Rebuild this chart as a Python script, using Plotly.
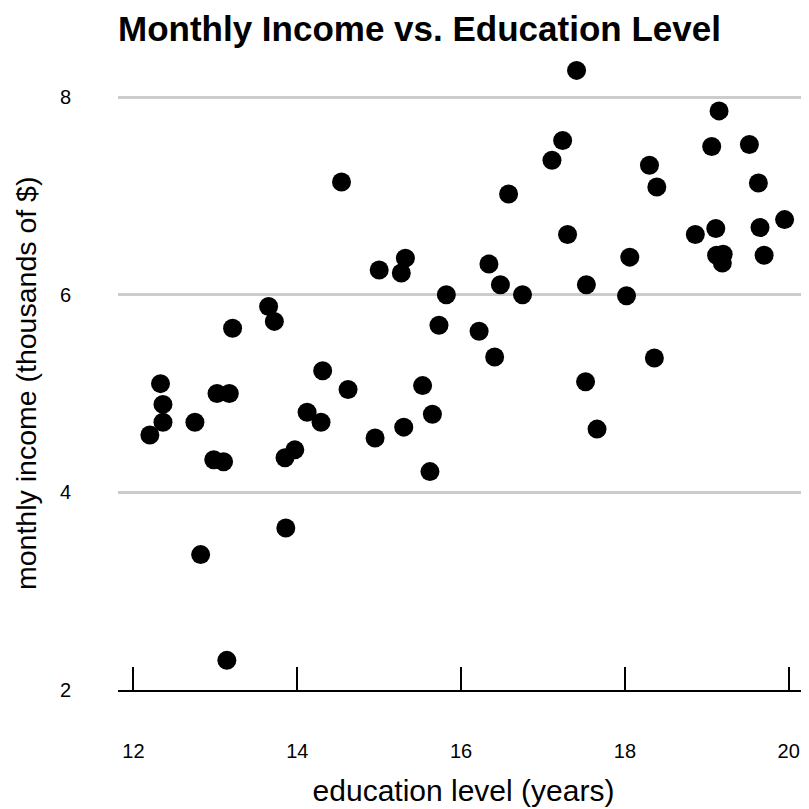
import plotly.graph_objects as go

education_years = [12.20, 12.33, 12.36, 12.36, 12.75, 12.82, 12.98, 13.02, 13.10, 13.14,
                   13.17, 13.21, 13.65, 13.72, 13.85, 13.86, 13.97, 14.12, 14.29, 14.31,
                   14.54, 14.62, 14.95, 15.00, 15.27, 15.30, 15.32, 15.53, 15.62, 15.65,
                   15.73, 15.82, 16.22, 16.34, 16.41, 16.48, 16.58, 16.75, 17.11, 17.24,
                   17.30, 17.41, 17.52, 17.53, 17.66, 18.02, 18.06, 18.30, 18.36, 18.39,
                   18.86, 19.06, 19.11, 19.12, 19.15, 19.19, 19.20, 19.52, 19.63, 19.65,
                   19.70, 19.95]
monthly_income = [4.58, 5.10, 4.89, 4.71, 4.71, 3.37, 4.33, 5.00, 4.31, 2.30,
                  5.00, 5.66, 5.88, 5.73, 4.35, 3.64, 4.43, 4.81, 4.71, 5.23,
                  7.14, 5.04, 4.55, 6.25, 6.22, 4.66, 6.37, 5.08, 4.21, 4.79,
                  5.69, 6.00, 5.63, 6.31, 5.37, 6.10, 7.02, 6.00, 7.36, 7.56,
                  6.61, 8.27, 5.12, 6.10, 4.64, 5.99, 6.38, 7.31, 5.36, 7.09,
                  6.61, 7.50, 6.67, 6.40, 7.86, 6.32, 6.41, 7.52, 7.13, 6.68,
                  6.40, 6.76]

x_ticks = [12, 14, 16, 18, 20]
y_ticks = [2, 4, 6, 8]

FONT = "Liberation Sans, Arial, sans-serif"
W = 801
H = 801
L, T, B = 110, 52, 119
PW = W - L
PH = H - T - B

fig = go.Figure(go.Scatter(
    x=education_years, y=monthly_income, mode="markers",
    marker=dict(color="black", size=19, line=dict(width=0)),
    cliponaxis=False, showlegend=False,
))

fig.update_layout(
    width=W, height=H,
    margin=dict(l=L, r=0, t=T, b=B),
    paper_bgcolor="white", plot_bgcolor="white",
    font=dict(family=FONT, color="black"),
    title=dict(text="<b>Monthly Income vs. Education Level</b>",
               font=dict(size=35, family=FONT, color="black"),
               xref="container", yref="container",
               x=L/W, xanchor="left", y=1-21/H, yanchor="middle"),
    annotations=[dict(
        text="monthly income (thousands of $)", textangle=-90,
        xref="paper", yref="paper", x=(18-L)/PW, y=(682-376)/PH,
        xanchor="center", yanchor="middle", showarrow=False,
        font=dict(size=28.5, family=FONT, color="black"),
    )],
)

fig.update_xaxes(
    range=[11.811, 20.248], tickvals=x_ticks, ticktext=[str(v) for v in x_ticks],
    showgrid=False, zeroline=False,
    showline=True, linecolor="black", linewidth=1.5,
    ticks="inside", ticklen=23, tickwidth=1.5, tickcolor="black",
    ticklabelstandoff=42,
    tickfont=dict(size=20, family=FONT, color="black"),
    title=dict(text="education level (years)", font=dict(size=30, family=FONT, color="black"),
               standoff=19),
)

fig.update_yaxes(
    range=[2, 8.375], tickvals=y_ticks, ticktext=[str(v) for v in y_ticks],
    showgrid=True, gridcolor="#cccccc", gridwidth=3,
    zeroline=False, showline=False, ticks="",
    ticklabelstandoff=46,
    tickfont=dict(size=20, family=FONT, color="black"),
)

fig.write_html("out.html")
